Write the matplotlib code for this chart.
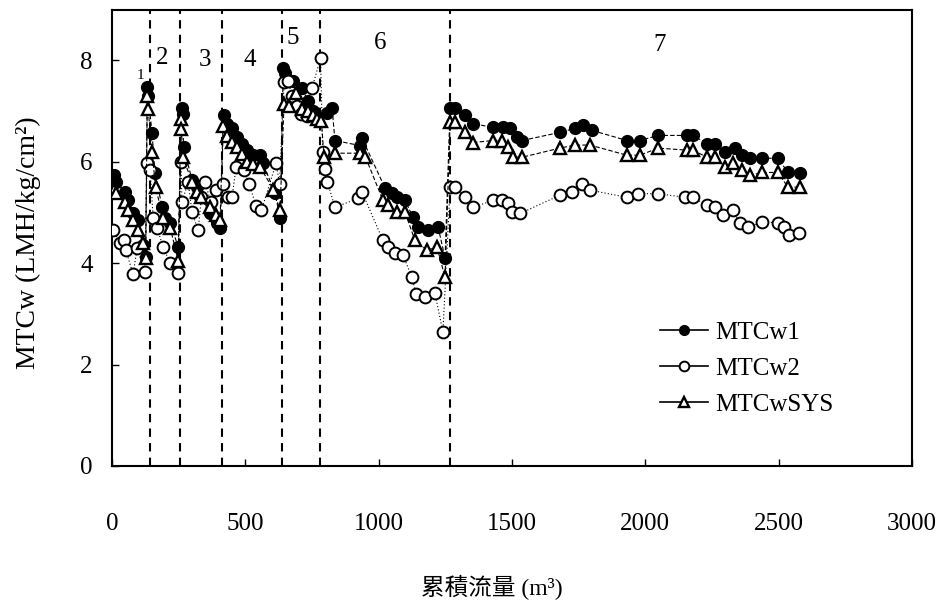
import numpy as np
import matplotlib
matplotlib.use("Agg")
import matplotlib.pyplot as plt

# cumulative flow (m3) and MTCw readings
x_w1 = [8, 15, 49, 60, 79, 98, 116, 126, 132, 135, 150, 161, 188, 199, 218, 248,
        262, 265, 268, 300, 319, 330, 368, 394, 406,
        418, 431, 450, 469, 488, 506, 529, 555, 566, 611, 630,
        642, 649, 679, 712, 735, 754, 769,
        806, 825, 836, 930, 938, 1024, 1050, 1069, 1099, 1128, 1148, 1185, 1223, 1249,
        1268, 1286, 1324, 1354, 1429, 1466, 1493, 1519, 1538, 1680, 1736, 1766, 1800,
        1931, 1980, 2048, 2156, 2179, 2231, 2261, 2299, 2336, 2363, 2393, 2438, 2498,
        2535, 2580]
y_w1 = [5.73, 5.6, 5.4, 5.24, 4.99, 4.85, 4.35, 4.12, 7.47, 7.3, 6.56, 5.77, 5.1, 4.9, 4.79, 4.32,
        7.07, 6.95, 6.29, 5.64, 5.5, 5.3, 4.98, 4.8, 4.7,
        6.92, 6.75, 6.66, 6.49, 6.36, 6.23, 6.13, 6.13, 5.97, 5.38, 4.9,
        7.86, 7.76, 7.6, 7.45, 7.2, 7.0, 6.86,
        6.97, 7.07, 6.42, 6.32, 6.46, 5.48, 5.38, 5.3, 5.24, 4.91, 4.71, 4.65, 4.71, 4.1,
        7.07, 7.07, 6.92, 6.75, 6.68, 6.68, 6.66, 6.49, 6.42, 6.58, 6.66, 6.72, 6.62,
        6.42, 6.42, 6.52, 6.52, 6.52, 6.36, 6.36, 6.19, 6.27, 6.13, 6.07, 6.07, 6.07,
        5.79, 5.77]

x_w2 = [4, 30, 45, 52, 79, 94, 122, 131, 143, 154, 169, 191, 218, 248,
        258, 262, 285, 300, 323, 335, 349, 370, 390,
        416, 435, 450, 465, 494, 514, 540, 560, 615, 628,
        645, 660, 675, 695, 710, 730, 750, 782,
        790, 800, 808, 836, 923, 938, 1016, 1035, 1061, 1091, 1125, 1140, 1174, 1211, 1241,
        1268, 1286, 1324, 1354, 1429, 1463, 1485, 1500, 1530, 1680, 1725, 1763, 1793,
        1931, 1973, 2048, 2149, 2179, 2231, 2261, 2291, 2329, 2355, 2385, 2438, 2498,
        2520, 2540, 2576]
y_w2 = [4.65, 4.4, 4.45, 4.25, 3.78, 4.3, 3.82, 5.97, 5.83, 4.89, 4.7, 4.32, 4.0, 3.8,
        6.0, 5.2, 5.6, 5.0, 4.65, 5.3, 5.6, 5.2, 5.45,
        5.57, 5.3, 5.3, 5.9, 5.83, 5.57, 5.12, 5.04, 5.97, 5.57,
        7.57, 7.6, 7.3, 7.1, 6.95, 6.9, 7.45, 8.05,
        6.2, 5.85, 5.6, 5.1, 5.28, 5.4, 4.45, 4.32, 4.2, 4.16, 3.72, 3.4, 3.33, 3.41, 2.64,
        5.5, 5.5, 5.3, 5.1, 5.24, 5.24, 5.18, 5.0, 4.98, 5.34, 5.4, 5.57, 5.44,
        5.3, 5.37, 5.37, 5.3, 5.3, 5.14, 5.1, 4.95, 5.04, 4.79, 4.71, 4.81, 4.8,
        4.72, 4.55, 4.6]

x_sys = [8, 15, 49, 60, 79, 98, 116, 126, 132, 135, 150, 163, 191, 218, 248,
         258, 260, 265, 300, 320, 335, 368, 388, 405,
         416, 431, 450, 469, 488, 506, 529, 555, 605, 630,
         645, 662, 690, 712, 735, 755, 770,
         785, 795, 836, 930, 950, 1016, 1035, 1069, 1099, 1136, 1181, 1219, 1249,
         1268, 1286, 1324, 1354, 1429, 1463, 1485, 1504, 1538, 1680, 1736, 1793,
         1931, 1980, 2048, 2156, 2179, 2231, 2261, 2299, 2329, 2363, 2393, 2438, 2498,
         2535, 2580]
y_sys = [5.45, 5.38, 5.2, 5.05, 4.85, 4.65, 4.4, 4.1, 7.3, 7.05, 6.2, 5.5, 4.9, 4.7, 4.05,
         6.85, 6.65, 6.1, 5.6, 5.4, 5.3, 5.1, 4.95, 4.85,
         6.7, 6.5, 6.4, 6.3, 6.15, 6.0, 5.95, 5.9, 5.45, 5.05,
         7.15, 7.1, 7.35, 7.05, 7.0, 6.92, 6.85,
         6.8, 6.1, 6.17, 6.17, 6.1, 5.24, 5.14, 5.0, 5.0, 4.45, 4.26, 4.31, 3.72,
         6.78, 6.78, 6.58, 6.38, 6.42, 6.42, 6.29, 6.09, 6.09, 6.27, 6.33, 6.33,
         6.13, 6.13, 6.27, 6.23, 6.23, 6.09, 6.09, 5.9, 5.97, 5.83, 5.73, 5.79, 5.79,
         5.5, 5.5]

# operating periods: boundaries and labels
boundaries = [141, 255, 412, 636, 778, 1266]
period_labels = ["1", "2", "3", "4", "5", "6", "7"]
period_x = [105, 187, 349, 517, 679, 1005, 2055]
period_y = [7.7, 8.05, 8.0, 8.0, 8.45, 8.35, 8.3]

plt.rcParams["font.family"] = ["Liberation Serif", "Noto Sans CJK TC"]

fig = plt.figure(figsize=(9.42, 6.09), dpi=100)
ax = fig.add_axes([0.119, 0.235, 0.849, 0.749])

ax.plot(x_w1, y_w1, color="black", ls=(0, (4, 2)), lw=0.8, marker="o", ms=8.5,
        mfc="black", mec="black", label="MTCw1", zorder=3)
ax.plot(x_w2, y_w2, color="black", ls=(0, (1, 2)), lw=0.8, marker="o", ms=8.5,
        mfc="white", mec="black", mew=1.4, label="MTCw2", zorder=4)
ax.plot(x_sys, y_sys, color="black", ls=(0, (4, 2)), lw=0.8, marker="^", ms=8,
        mfc="white", mec="black", mew=1.7, label="MTCwSYS", zorder=5)

for b in boundaries:
    ax.axvline(b, color="black", ls=(0, (4, 3)), lw=1.5, zorder=2)

for lab, px, py in zip(period_labels, period_x, period_y):
    ax.text(px, py, lab, fontsize=11 if lab == "1" else 18, ha="center", va="center")

ax.set_xlim(0, 3000)
ax.set_ylim(0, 9)
ax.set_xticks([0, 500, 1000, 1500, 2000, 2500, 3000])
ax.set_yticks([0, 2, 4, 6, 8])
ax.tick_params(direction="in", length=5, width=1, labelsize=18)
ax.tick_params(axis="x", pad=34)
ax.tick_params(axis="y", pad=14)
for s in ax.spines.values():
    s.set_linewidth(1.5)

ax.set_ylabel("MTCw (LMH/kg/cm\u00b2)", fontsize=20)
ax.yaxis.set_label_coords(-0.089, 0.49)
ax.set_xlabel("累積流量 (m\u00b3)", fontsize=17)
ax.xaxis.set_label_coords(0.475, -0.238)

leg = ax.legend(loc="upper left", bbox_to_anchor=(0.67, 0.345), frameon=False,
                fontsize=18, handlelength=1.9, handletextpad=0.3, labelspacing=0.55,
                borderpad=0)
for h in leg.get_lines():
    h.set_linestyle("-")
    h.set_linewidth(1.2)
    h.set_markersize(7)

fig.savefig("out.png", dpi=100)
